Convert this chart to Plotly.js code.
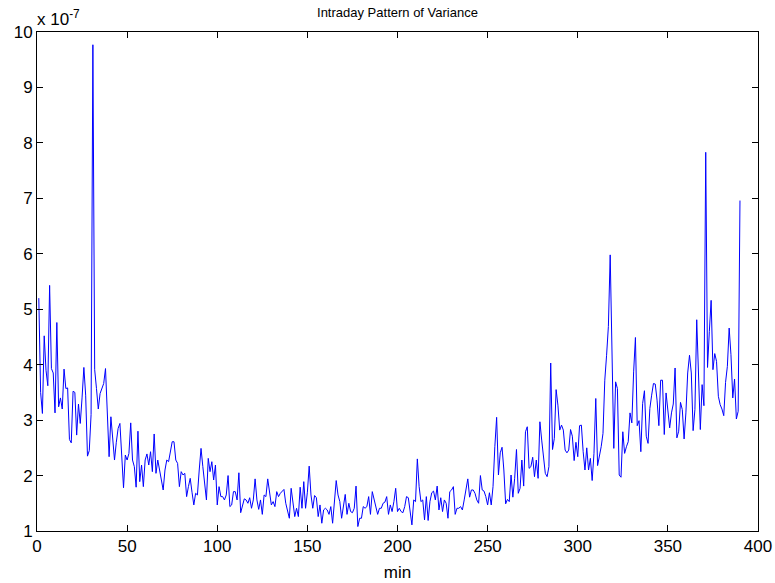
<!DOCTYPE html>
<html>
<head>
<meta charset="utf-8">
<script src="https://cdn.plot.ly/plotly-3.0.1.min.js"></script>
<style>html,body{margin:0;padding:0;background:#fff;}#chart{width:775px;height:583px;}</style>
</head>
<body>
<div id="chart"></div>
<script>
// Minutes of the trading day (1..390)
const minutes = Array.from({length: 390}, (_, i) => i + 1);

// Variance per minute, in units of 1e-7
const varianceE7 = [
  5.2, 3.5, 3.12, 4.52, 3.9, 3.62, 5.43, 3.93, 3.85, 3.13,
  4.76, 3.24, 3.4, 3.2, 3.92, 3.57, 3.58, 2.65, 2.59, 3.52,
  3.5, 2.73, 3.29, 2.94, 3.4, 3.95, 3.45, 2.35, 2.45, 3.1,
  9.77, 3.91, 3.57, 3.2, 3.48, 3.57, 3.66, 3.93, 3.06, 2.34,
  3.06, 2.7, 2.28, 2.6, 2.85, 2.94, 2.28, 1.78, 2.37, 2.28,
  2.4, 2.95, 2.28, 2.16, 1.79, 2.8, 1.89, 2.19, 1.8, 2.28,
  2.39, 2.19, 2.43, 2.07, 2.75, 2.04, 2.28, 2.1, 1.86, 1.74,
  2.1, 2.28, 2.25, 2.4, 2.61, 2.61, 2.28, 2.22, 1.8, 2.07,
  2.01, 2.04, 1.62, 1.8, 1.95, 1.7, 1.47, 1.68, 1.65, 2.1,
  2.49, 2.16, 1.8, 1.56, 2.31, 2.07, 2.25, 1.92, 2.19, 1.47,
  1.8, 1.62, 1.62, 1.56, 1.65, 2.0, 1.44, 1.47, 1.71, 1.71,
  1.56, 2.05, 1.33, 1.44, 1.58, 1.56, 1.5, 1.6, 1.41, 1.56,
  1.94, 1.56, 1.39, 1.56, 1.3, 1.65, 1.62, 1.94, 1.74, 1.47,
  1.53, 1.44, 1.71, 1.62, 1.68, 1.71, 1.75, 1.5, 1.35, 1.23,
  1.77, 1.45, 1.26, 1.41, 1.26, 1.79, 1.41, 1.89, 1.41, 1.7,
  2.17, 1.65, 1.41, 1.64, 1.6, 1.26, 1.47, 1.14, 1.38, 1.41,
  1.38, 1.3, 1.44, 1.14, 1.53, 1.91, 1.65, 1.53, 1.23, 1.41,
  1.66, 1.3, 1.5, 1.35, 1.33, 1.41, 1.81, 1.08, 1.23, 1.23,
  1.44, 1.41, 1.44, 1.62, 1.3, 1.71, 1.56, 1.44, 1.3, 1.41,
  1.41, 1.5, 1.52, 1.62, 1.3, 1.47, 1.35, 1.53, 1.77, 1.35,
  1.41, 1.35, 1.33, 1.44, 1.62, 1.6, 1.3, 1.11, 1.56, 1.53,
  2.3, 1.8, 1.53, 1.56, 1.2, 1.62, 1.19, 1.53, 1.69, 1.72,
  1.56, 1.81, 1.38, 1.6, 1.35, 1.56, 1.5, 1.23, 1.71, 1.74,
  1.8, 1.3, 1.41, 1.41, 1.44, 1.38, 1.56, 1.74, 1.94, 1.61,
  1.74, 1.74, 1.68, 1.56, 1.5, 2.0, 1.74, 1.72, 1.62, 1.47,
  1.69, 1.47, 1.8, 2.52, 3.05, 2.01, 2.41, 2.51, 2.1, 1.49,
  1.57, 1.53, 2.01, 1.61, 1.95, 2.47, 1.68, 1.77, 2.28, 1.81,
  2.79, 2.88, 2.13, 2.16, 2.33, 1.98, 2.28, 1.95, 2.97, 2.64,
  2.28, 2.04, 1.98, 2.16, 4.03, 2.47, 2.67, 3.55, 3.27, 2.82,
  2.91, 2.82, 2.46, 2.41, 2.46, 2.83, 2.71, 2.27, 2.6, 2.34,
  2.9, 2.91, 2.43, 2.1, 2.5, 2.1, 2.31, 1.91, 2.4, 3.39,
  2.18, 2.34, 2.52, 2.76, 3.72, 4.17, 4.69, 5.98, 3.96, 2.49,
  3.69, 3.57, 2.01, 1.97, 2.79, 2.4, 2.52, 2.61, 3.13, 2.95,
  3.87, 4.49, 2.9, 2.99, 2.43, 3.3, 3.53, 2.71, 2.58, 3.21,
  3.45, 3.66, 3.65, 3.36, 2.9, 3.72, 3.72, 2.74, 3.49, 3.13,
  2.86, 3.13, 3.29, 3.94, 2.68, 2.8, 3.32, 3.19, 2.66, 3.13,
  3.85, 4.17, 3.85, 2.81, 3.19, 4.81, 3.73, 2.83, 3.64, 3.26,
  7.83, 3.95, 4.6, 5.16, 3.91, 4.2, 4.06, 3.43, 3.28, 3.2,
  3.08, 3.68, 3.97, 4.66, 4.18, 3.4, 3.74, 3.02, 3.16, 6.96
];

const xTicks = [0, 50, 100, 150, 200, 250, 300, 350, 400];
const yTicks = [1, 2, 3, 4, 5, 6, 7, 8, 9, 10];
const titleText = 'Intraday Pattern of Variance';
const xLabel = 'min';
const exponentLabel = 'x 10<sup>-7</sup>';

const family = '"Liberation Sans", Arial, Helvetica, sans-serif';
const titleFont = {family: family, size: 13, color: '#000'};
const labelFont = {family: family, size: 17, color: '#000'};

const trace = {
  x: minutes,
  y: varianceE7,
  type: 'scatter',
  mode: 'lines',
  line: {color: '#0000ff', width: 1},
  hoverinfo: 'x+y'
};

const axisCommon = {
  showgrid: false,
  zeroline: false,
  showline: true,
  linecolor: '#000',
  linewidth: 1,
  mirror: 'ticks',
  ticks: 'inside',
  ticklen: 6,
  tickwidth: 1,
  tickcolor: '#000',
  tickfont: labelFont
};

const layout = {
  width: 775,
  height: 583,
  margin: {l: 37, r: 17, t: 32, b: 52},
  paper_bgcolor: '#fff',
  plot_bgcolor: '#fff',
  font: labelFont,
  showlegend: false,
  title: {
    text: titleText,
    font: titleFont,
    x: 0.5, xref: 'paper', xanchor: 'center',
    y: 1 - 12 / 583, yref: 'container', yanchor: 'middle'
  },
  xaxis: Object.assign({}, axisCommon, {
    range: [0, 400],
    tickvals: xTicks,
    ticktext: xTicks.map(String),
    title: {text: xLabel, font: labelFont, standoff: 10}
  }),
  yaxis: Object.assign({}, axisCommon, {
    range: [1, 10],
    tickvals: yTicks,
    ticktext: yTicks.map(String)
  }),
  annotations: [{
    text: exponentLabel,
    xref: 'paper', yref: 'paper',
    x: 0, y: 1,
    xanchor: 'left', yanchor: 'bottom',
    xshift: -2,
    yshift: 1,
    showarrow: false,
    font: labelFont
  }]
};

Plotly.newPlot('chart', [trace], layout, {staticPlot: true, displayModeBar: false});
</script>
</body>
</html>
